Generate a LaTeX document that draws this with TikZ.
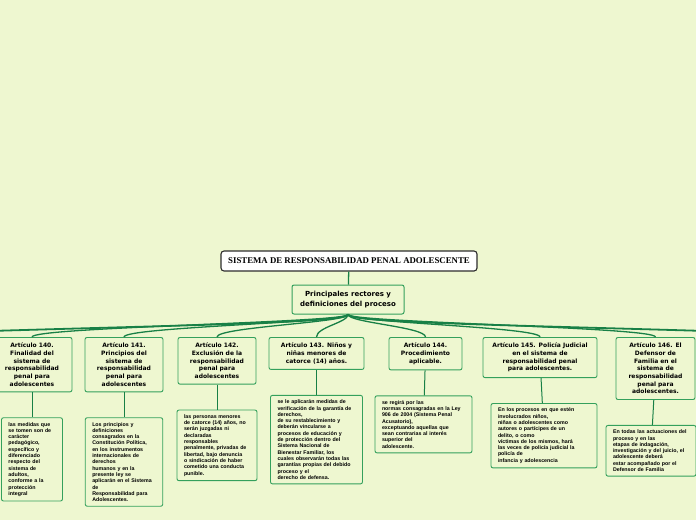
\documentclass[tikz,border=0pt]{standalone}
\usepackage{fontspec}
\setmainfont{Liberation Sans}
\newfontfamily\artfont{DejaVu Sans}
\newfontfamily\rootfont{Liberation Serif}
\usetikzlibrary{positioning}
\definecolor{bgcol}{RGB}{238,247,208}
\definecolor{boxline}{RGB}{52,160,92}
\definecolor{linkcol}{RGB}{24,128,70}
\definecolor{rootline}{RGB}{45,45,45}
\begin{document}
\begin{tikzpicture}[x=1pt, y=-1pt,
        rootbox/.style = {draw=rootline, fill=white, rounded corners=3pt, line width=1.1pt, minimum width=256pt, minimum height=20pt, inner sep=2pt, font=\rootfont\bfseries\fontsize{8.8}{10}\selectfont},
        topicbox/.style = {draw=boxline, fill=bgcol, rounded corners=2pt, line width=1pt, align=center, minimum width=112pt, minimum height=29pt, font=\artfont\bfseries\fontsize{7}{9.5}\selectfont},
        artbox/.style = {draw=boxline, fill=bgcol, rounded corners=2pt, line width=0.9pt, align=center, anchor=north, inner xsep=5pt, inner ysep=5.5pt, font=\artfont\bfseries\fontsize{6}{7.7}\selectfont},
        notebox/.style = {draw=boxline, fill=bgcol, rounded corners=2pt, line width=0.9pt, align=left, inner xsep=7pt, inner ysep=4.5pt, font=\bfseries\fontsize{5.3}{6.3}\selectfont},
        linkline/.style = {draw=linkcol, line width=1.3pt},
        node distance=25pt]
        \fill[bgcol] (0,0) rectangle (696,520);
        \useasboundingbox (0,0) rectangle (696,520);
        \node[rootbox] (0) at (349,261) {SISTEMA DE RESPONSABILIDAD PENAL ADOLESCENTE};
        \node[topicbox] (1) at (348,299.5) {Principales rectores y\\definiciones del proceso};
        % articulos
        \node[artbox, text width=70pt] (2) at (32,337) {Artículo 140.\\Finalidad del\\sistema de\\responsabilidad\\penal para\\adolescentes};
        \node[artbox, text width=68pt] (3) at (124,337) {Artículo 141.\\Principios del\\sistema de\\responsabilidad\\penal para\\adolescentes};
        \node[artbox, text width=68pt] (4) at (217,337) {Artículo 142.\\Exclusión de la\\responsabilidad\\penal para\\adolescentes};
        \node[artbox, text width=85pt] (5) at (316.5,337) {Artículo 143. Niños y\\niñas menores de\\catorce (14) años.};
        \node[artbox, text width=63pt] (6) at (425.5,337) {Artículo 144.\\Procedimiento\\aplicable.};
        \node[artbox, text width=104pt] (7) at (540,337) {Artículo 145. Policía Judicial\\en el sistema de\\responsabilidad penal\\para adolescentes.};
        \node[artbox, text width=69pt] (8) at (655.5,337) {Artículo 146. El\\Defensor de\\Familia en el\\sistema de\\responsabilidad\\penal para\\adolescentes.};
        % contenidos
        \node[notebox, text width=47pt] (9) [below=of 2] {las medidas que\\se tomen son de\\carácter\\pedagógico,\\específico y\\diferenciado\\respecto del\\sistema de\\adultos,\\conforme a la\\protección\\integral};
        \node[notebox, text width=63.5pt] (10) [below=of 3] {Los principios y\\definiciones\\consagrados en la\\Constitución Política,\\en los instrumentos\\internacionales de\\derechos\\humanos y en la\\presente ley se\\aplicarán en el Sistema\\de\\Responsabilidad para\\Adolescentes.};
        \node[notebox, text width=66pt] (11) [below=of 4] {las personas menores\\de catorce (14) años, no\\serán juzgadas ni\\declaradas\\responsables\\penalmente, privadas de\\libertad, bajo denuncia\\o sindicación de haber\\cometido una conducta\\punible.};
        \node[notebox, text width=78pt] (12) [below=of 5] {se le aplicarán medidas de\\verificación de la garantía de\\derechos,\\de su restablecimiento y\\deberán vincularse a\\procesos de educación y\\de protección dentro del\\Sistema Nacional de\\Bienestar Familiar, los\\cuales observarán todas las\\garantías propias del debido\\proceso y el\\derecho de defensa.};
        \node[notebox, text width=83pt] (13) [below=of 6, xshift=-2pt] {se regirá por las\\normas consagradas en la Ley\\906 de 2004 (Sistema Penal\\Acusatorio),\\exceptuando aquellas que\\sean contrarias al interés\\superior del\\adolescente.};
        \node[notebox, text width=92pt] (14) [below=of 7, xshift=4pt] {En los procesos en que estén\\involucrados niños,\\niñas o adolescentes como\\autores o partícipes de un\\delito, o como\\víctimas de los mismos, hará\\las veces de policía judicial la\\policía de\\infancia y adolescencia};
        \node[notebox, text width=76pt] (15) [below=of 8, xshift=-4.5pt] {En todas las actuaciones del\\proceso y en las\\etapas de indagación,\\investigación y del juicio, el\\adolescente deberá\\estar acompañado por el\\Defensor de Familia};
        \coordinate (L) at (-10,331);
        \coordinate (R) at (706,331);
        \draw[linkline] (0) -- (1);
        \draw[linkline, line width=1.8pt] (1.south) .. controls +(0,8) and +(200,-6) .. (L);
        \draw[linkline, line width=1.8pt] (1.south) .. controls +(0,8) and +(-200,-6) .. (R);
        \draw[linkline] (1.south) .. controls +(0,8) and +(0,-10) .. (2.north);
        \draw[linkline] (1.south) .. controls +(0,8) and +(0,-10) .. (3.north);
        \draw[linkline] (1.south) .. controls +(0,8) and +(0,-10) .. (4.north);
        \draw[linkline] (1.south) .. controls +(0,8) and +(0,-10) .. (5.north);
        \draw[linkline] (1.south) .. controls +(0,8) and +(0,-10) .. (6.north);
        \draw[linkline] (1.south) .. controls +(0,8) and +(0,-10) .. (7.north);
        \draw[linkline] (1.south) .. controls +(0,8) and +(0,-10) .. (8.north);
        \draw[linkline, line width=1pt] (2) -- (9);
        \draw[linkline, line width=1pt] (3) -- (10);
        \draw[linkline, line width=1pt] (4) -- (11);
        \draw[linkline, line width=1pt] (5) -- (12);
        \draw[linkline, line width=1pt] (6) -- (13);
        \draw[linkline, line width=1pt] (7) -- (14);
        \draw[linkline, line width=1pt] (8) -- (15);
    \end{tikzpicture}
\end{document}
